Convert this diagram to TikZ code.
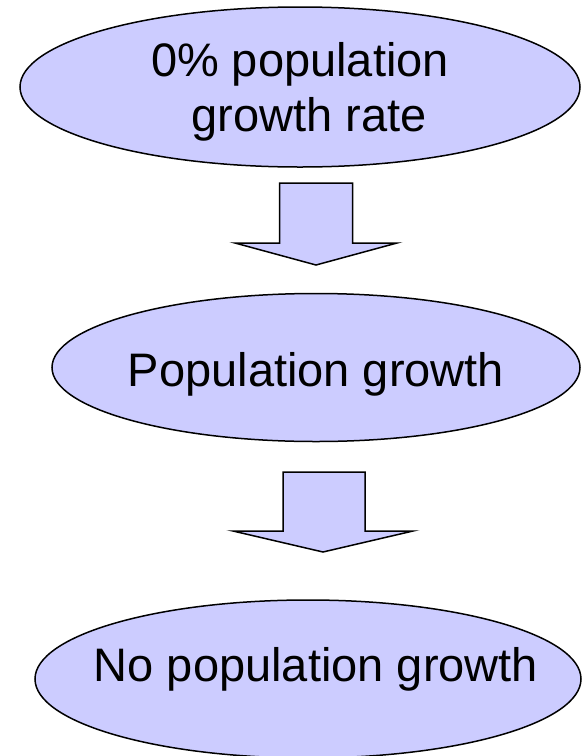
\documentclass[tikz,border=0pt]{standalone}
\usepackage{fontspec}
\setmainfont{Liberation Sans}
\usetikzlibrary{shapes.geometric}
\definecolor{lav}{HTML}{CCCCFF}
\tikzset{
  oval/.style={ellipse, draw=black, line width=1.5pt, fill=lav, inner sep=0pt},
  blockarrow/.style={draw=black, line width=1.5pt, fill=lav, line join=miter},
  lbl/.style={anchor=base, inner sep=0pt, font=\fontsize{47}{54}\selectfont}
}
\begin{document}
\begin{tikzpicture}[x=1pt,y=-1pt]
\useasboundingbox (0,0) rectangle (582,756);
\fill[white] (0,0) rectangle (582,756);
% ellipses
\node[oval, minimum width=560pt, minimum height=160pt] (e1) at (300,87) {};
\node[oval, minimum width=528pt, minimum height=148pt] (e2) at (316,367.5) {};
\node[oval, minimum width=546pt, minimum height=158pt] (e3) at (308,679) {};
% texts
\node[lbl] (t1a) at (300,76) {0\% population};
\node[lbl] (t1b) at (309,131) {growth rate};
\node[lbl] (t2) at (316,386) {Population growth};
\node[lbl] (t3) at (316,681) {No population growth};
% block arrows
\coordinate (a1) at (316,183);
\draw[blockarrow] ([xshift=-36.5pt]a1) -- ([xshift=36.5pt]a1) -- ++(0,60) -- (397,243) -- (316,265) -- (235,243) -- (279.5,243) -- cycle;
\coordinate (a2) at (324,472);
\draw[blockarrow] ([xshift=-41pt]a2) -- ([xshift=41pt]a2) -- ++(0,59) -- (413,531) -- (323,552) -- (233,531) -- (283,531) -- cycle;
\end{tikzpicture}
\end{document}
